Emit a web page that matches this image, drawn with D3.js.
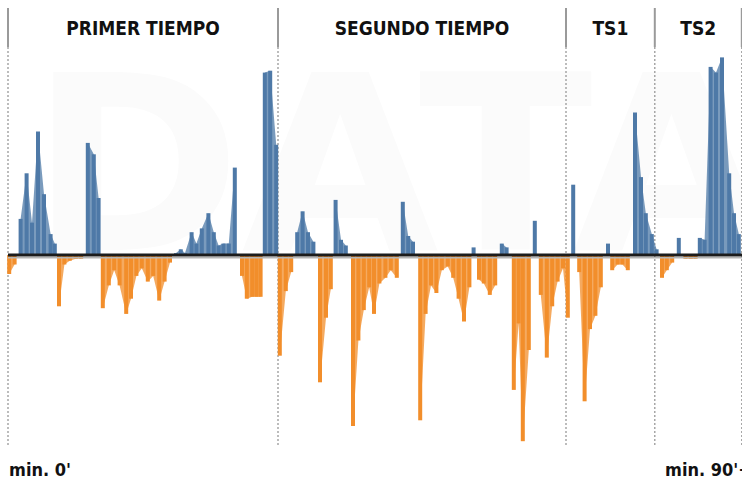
<!DOCTYPE html>
<html>
<head>
<meta charset="utf-8">
<script src="https://cdn.jsdelivr.net/npm/d3@7"></script>
<style>
  body { margin: 0; background: #fff; overflow: hidden; }
</style>
</head>
<body>
<svg id="chart"></svg>
<script>
// periods of the match and where they start/end (minutes incl. added time)
var periodos = ["PRIMER TIEMPO", "SEGUNDO TIEMPO", "TS1", "TS2"];
var cortes = [0, 45, 93, 107.8, 122.3];
var etiquetasMin = ["min. 0'", "min. 90'+"];

// momentum: minute of each bar and its value (+ blue team, - orange team)
var minutos = [
  0.2, 1.1,
  2.1, 3.1, 4.0, 5.0, 6.0, 7.1, 7.8,
  8.5, 9.4, 10.3, 11.3, 12.2,
  13.3, 14.3, 15.1,
  15.8, 16.8, 17.7, 18.6, 19.7, 20.5, 21.4, 22.3, 23.3, 24.2, 25.2, 26.1, 27.0,
  28.0, 28.8, 29.5, 30.6, 31.4, 32.3, 33.4, 34.3, 35.1, 35.9, 36.8, 37.8,
  39.0, 39.8, 40.7, 41.4, 42.1,
  42.8, 43.7, 44.7,
  45.3, 46.3, 47.2,
  48.2, 49.1, 50.0, 50.9,
  52.0, 53.0, 53.8,
  54.6, 55.5, 56.3,
  57.5, 58.4, 59.3, 60.2, 61.0, 61.9, 62.9, 63.8, 64.8,
  65.8, 66.7, 67.5,
  68.7, 69.6, 70.5, 71.4, 72.3, 73.3, 74.2, 75.1, 76.0, 76.9,
  77.6,
  78.5, 79.3, 80.3, 81.2,
  82.3, 83.1,
  84.3, 85.1, 85.8, 86.8,
  87.8,
  88.8, 89.8, 90.7, 91.6, 92.5, 93.3,
  94.2,
  95.2, 96.1, 97.0, 97.9, 98.8,
  100.0,
  100.7, 101.6, 102.4, 103.3,
  104.5, 105.5, 106.3, 107.3, 108.1,
  109.0, 109.8, 110.7,
  111.8,
  112.9, 113.8, 114.6,
  115.3, 116.1, 117.1, 118.0, 119.0, 120.2, 121.0, 121.8
];
var valores = [
  -10, -5,
  19, 43, 17, 65, 32, 11, 6,
  -27, -5, -3, -2, -2,
  59, 53, 30,
  -28, -16, -8, -16, -31, -23, -11, -7, -14, -11, -24, -14, -4,
  1, 3, 1, 12, 6, 14, 22, 12, 5, 6, 6, 46,
  -11, -23, -22, -22, -22,
  96, 97, 58,
  -53, -19, -9,
  12, 23, 12, 7,
  -67, -33, -18,
  29, 8, 5,
  -90, -45, -29, -17, -31, -15, -12, -8, -12,
  28, 10, 7,
  -87, -31, -16, -20, -8, -6, -12, -23, -35, -17,
  4,
  -13, -15, -21, -16,
  6, 4,
  -71, -36, -98, -50,
  18,
  -21, -54, -27, -14, -7, -33,
  37,
  -9, -77, -39, -32, -17,
  6,
  -8, -5, -5, -8,
  75, 41, 22, 11, 3,
  -12, -8, -4,
  9,
  -2, -2, -2,
  9, 8, 99, 96, 104, 43, 22, 11
];

var azul = "#4e79a7", naranja = "#f28e2b";
var width = 742, height = 479;

var svg = d3.select("#chart")
  .attr("width", width)
  .attr("height", height);

var x = d3.scaleLinear().domain([0, 122.3]).range([8, 741.8]);
var y = d3.scaleLinear().domain([-100, 100]).range([445, 65]);

var data = minutos.map(function(m, i) { return {t: m, v: valores[i]}; });

// very faint watermark in the background
svg.append("text")
  .attr("x", 30)
  .attr("y", 250)
  .attr("textLength", 740)
  .attr("lengthAdjust", "spacingAndGlyphs")
  .attr("fill", "#fbfbfb")
  .style("font", "bold 245px 'DejaVu Sans'")
  .text("DATA");

// period dividers: solid at the top, dotted down the plot
cortes.forEach(function(c) {
  svg.append("line")
    .attr("x1", x(c)).attr("x2", x(c))
    .attr("y1", 8).attr("y2", 47)
    .attr("stroke", "#9a9a9a")
    .attr("stroke-width", 2);
  svg.append("line")
    .attr("x1", x(c)).attr("x2", x(c))
    .attr("y1", 47).attr("y2", 445)
    .attr("stroke", "#999")
    .attr("stroke-width", 1.3)
    .style("stroke-dasharray", "2 2");
});

// period titles
svg.selectAll(".periodo")
  .data(periodos)
  .enter().append("text")
    .attr("class", "periodo")
    .attr("x", function(d, i) { return (x(cortes[i]) + x(cortes[i + 1])) / 2; })
    .attr("y", 35)
    .attr("text-anchor", "middle")
    .attr("fill", "#111")
    .style("font", "bold 19px 'DejaVu Sans Condensed', 'DejaVu Sans'")
    .text(function(d) { return d; });

// areas behind the bars (lighter)
var areaPos = d3.area()
  .defined(function(d) { return d.v > 0; })
  .x(function(d) { return x(d.t); })
  .y0(y(0))
  .y1(function(d) { return y(d.v); });
var areaNeg = d3.area()
  .defined(function(d) { return d.v < 0; })
  .x(function(d) { return x(d.t); })
  .y0(y(0))
  .y1(function(d) { return y(d.v); });

svg.append("path")
  .datum(data)
  .attr("fill", azul)
  .attr("fill-opacity", 0.75)
  .attr("d", areaPos);
svg.append("path")
  .datum(data)
  .attr("fill", naranja)
  .attr("fill-opacity", 0.75)
  .attr("d", areaNeg);

// bars
svg.selectAll(".bar")
  .data(data)
  .enter().append("rect")
    .attr("class", "bar")
    .attr("x", function(d) { return x(d.t) - 2; })
    .attr("width", 4)
    .attr("y", function(d) { return Math.min(y(d.v), y(0)); })
    .attr("height", function(d) { return Math.abs(y(d.v) - y(0)); })
    .attr("fill", function(d) { return d.v > 0 ? azul : naranja; });

// zero line
svg.append("line")
  .attr("x1", x(0)).attr("x2", width)
  .attr("y1", y(0) + 2.8).attr("y2", y(0) + 2.8)
  .attr("stroke", "#b5b5b5")
  .attr("stroke-width", 1.6);
svg.append("line")
  .attr("x1", x(0)).attr("x2", width)
  .attr("y1", y(0)).attr("y2", y(0))
  .attr("stroke", "#1c1c1c")
  .attr("stroke-width", 3.2);

// minute labels at the bottom
svg.append("text")
  .attr("x", 9)
  .attr("y", 476)
  .attr("fill", "#111")
  .style("font", "bold 18px 'DejaVu Sans Condensed', 'DejaVu Sans'")
  .text(etiquetasMin[0]);
svg.append("text")
  .attr("x", 665)
  .attr("y", 476)
  .attr("fill", "#111")
  .style("font", "bold 18px 'DejaVu Sans Condensed', 'DejaVu Sans'")
  .text(etiquetasMin[1]);
</script>
</body>
</html>
